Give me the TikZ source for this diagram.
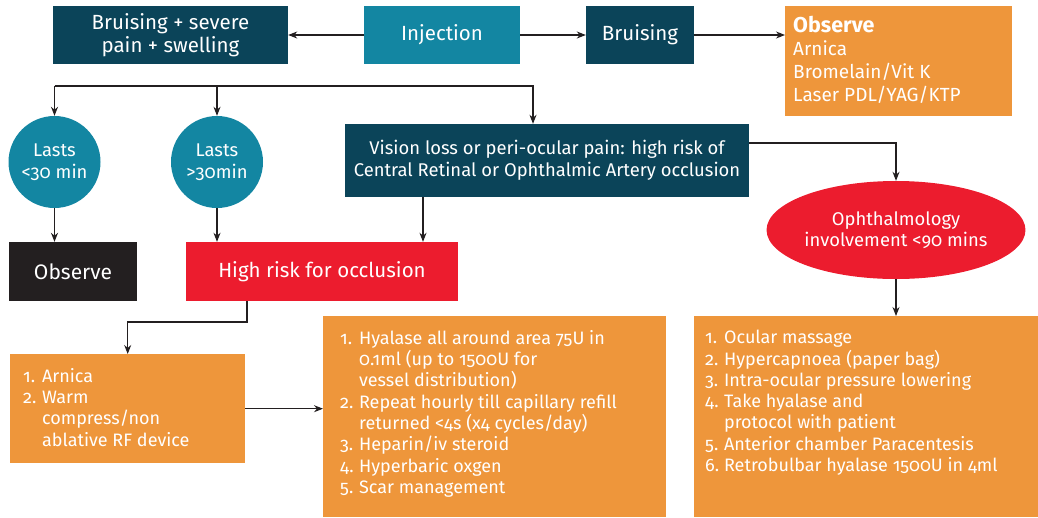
\documentclass[tikz,border=0pt]{standalone}
\usepackage{fontspec}
\setmainfont{Fira Sans}[Numbers=OldStyle]
\usetikzlibrary{shapes.geometric,arrows.meta,calc}
\definecolor{dteal}{HTML}{0B4459}
\definecolor{lteal}{HTML}{1386A2}
\definecolor{orng}{HTML}{EE963B}
\definecolor{rred}{HTML}{EC1C2E}
\definecolor{blk}{HTML}{231F20}
\newcommand{\itm}[2]{\par\noindent\hangindent=1.05em\hangafter=1\makebox[1.05em][l]{#1}#2\par}
\tikzset{
  box/.style={rectangle, text=white, inner sep=0pt, align=center, font=\fontsize{20.5}{22.5}\selectfont},
  mid/.style={font=\fontsize{18.4}{21.5}\selectfont},
  lst/.style={rectangle, fill=orng, text=white, inner sep=0pt, anchor=north west, font=\fontsize{18}{21.3}\selectfont},
  arr/.style={draw=blk, line width=1.1pt, -{Stealth[length=9pt,width=7pt]}},
  ln/.style={draw=blk, line width=1.1pt}
}
\begin{document}
\begin{tikzpicture}[x=1pt,y=-1pt]
\useasboundingbox (0,0) rectangle (1038,517);
\node[box, fill=dteal, minimum width=235pt, minimum height=58pt] (bsp) at (170.5,35) {Bruising + severe\\pain + swelling};
\node[box, fill=lteal, minimum width=156pt, minimum height=58pt] (inj) at (442,35) {Injection};
\node[box, fill=dteal, minimum width=108pt, minimum height=58pt] (bru) at (640,35) {Bruising};
\node[box, fill=orng, anchor=north west, minimum width=227pt, minimum height=110pt, align=left, inner xsep=8pt, inner ysep=10pt, font=\fontsize{19}{23}\selectfont] (obs1) at (785,6)
  {\begin{minipage}[t][90pt][t]{211pt}\raggedright{\fontsize{21.5}{23}\selectfont\bfseries Observe}\\Arnica\\Bromelain/Vit K\\Laser PDL/YAG/KTP\end{minipage}};
\node[box, mid, circle, fill=lteal, minimum size=92pt] (c1) at (54.5,162) {Lasts\\<30 min};
\node[box, mid, circle, fill=lteal, minimum size=92pt] (c2) at (217,162) {Lasts\\>30min};
\node[box, mid, fill=dteal, minimum width=404pt, minimum height=73pt] (vis) at (547,160.5) {Vision loss or peri-ocular pain: high risk of\\Central Retinal or Ophthalmic Artery occlusion};
\node[box, fill=blk, minimum width=128pt, minimum height=59pt, font=\fontsize{21}{22}\selectfont] (obs2) at (73,271.5) {Observe};
\node[box, fill=rred, minimum width=272pt, minimum height=59pt] (hr) at (322,271.5) {High risk for occlusion};
\node[box, mid, ellipse, fill=rred, minimum width=248pt, minimum height=98pt, inner sep=0pt] (ell) at (896,230) {Ophthalmology\\involvement <90 mins};
\node[lst, inner xsep=13pt, inner ysep=14pt] (lo) at (10,354)
  {\begin{minipage}[t][81pt][t]{209pt}\itm{1.}{Arnica}\itm{2.}{Warm\\compress/non\\ablative RF device}\end{minipage}};
\node[lst, inner xsep=17pt, inner ysep=14pt] (mo) at (323,316)
  {\begin{minipage}[t][173pt][t]{309pt}\itm{1.}{Hyalase all around area 75U in\\0.1ml (up to 1500U for\\vessel distribution)}\itm{2.}{Repeat hourly till capillary refill\\returned <4s (x4 cycles/day)}\itm{3.}{Heparin/iv steroid}\itm{4.}{Hyperbaric oxgen}\itm{5.}{Scar management}\end{minipage}};
\node[lst, inner xsep=11pt, inner ysep=14pt] (ro) at (694,316)
  {\begin{minipage}[t][173pt][t]{322pt}\itm{1.}{Ocular massage}\itm{2.}{Hypercapnoea (paper bag)}\itm{3.}{Intra-ocular pressure lowering}\itm{4.}{Take hyalase and\\protocol with patient}\itm{5.}{Anterior chamber Paracentesis}\itm{6.}{Retrobulbar hyalase 1500U in 4ml}\end{minipage}};
\coordinate (bl) at (54.5,86);
\coordinate (br) at (533,86);
\coordinate (v1) at (423,0);
\coordinate (h1) at (247,322);
\draw[arr] (inj.west) -- (bsp.east);
\draw[arr] (inj.east) -- (bru.west);
\draw[arr] (bru.east) -- (bru.east -| obs1.west);
\draw[arr] (bl) -- (c1.north);
\draw[arr] (bl) -- (br) -- (br |- vis.north);
\draw[arr] (bl -| c2.north) -- (c2.north);
\draw[arr] (c1.south) -- (c1.south |- obs2.north);
\draw[arr] (c2.south) -- (c2.south |- hr.north);
\draw[arr] (v1 |- vis.south) -- (v1 |- hr.north);
\draw[arr] ($(vis.east)+(0,-17.5)$) -| (ell.north);
\draw[arr] (ell.south) -- (ell.south |- ro.north);
\draw[arr] (h1 |- hr.south) -- (h1) -| (lo.north);
\draw[arr] (lo.east) -- (lo.east -| mo.west);
\end{tikzpicture}
\end{document}
